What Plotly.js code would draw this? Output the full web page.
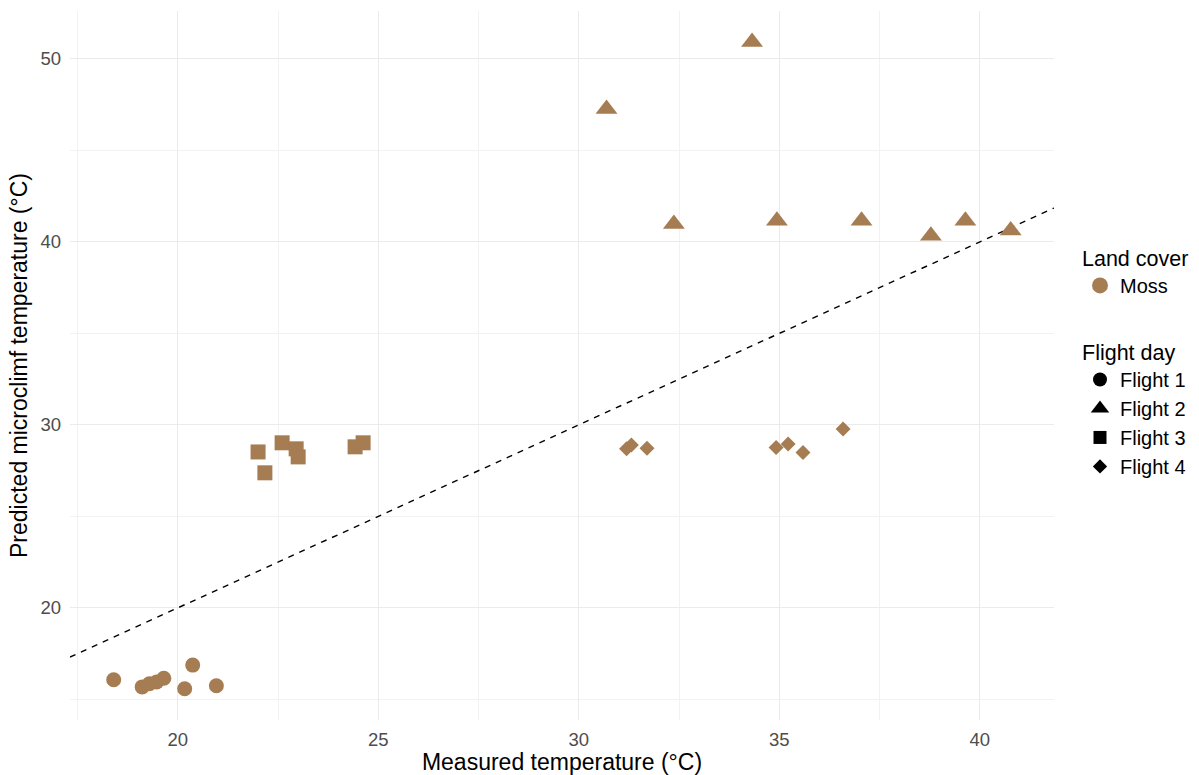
<!DOCTYPE html>
<html>
<head>
<meta charset="utf-8">
<script src="https://cdn.plot.ly/plotly-3.0.1.min.js"></script>
<style>html,body{margin:0;padding:0;background:#fff;}#chart{width:1199px;height:775px;}</style>
</head>
<body>
<div id="chart"></div>
<script>
// Flight 1 (circles)
const f1x = [18.40, 19.11, 19.29, 19.47, 19.65, 20.17, 20.37, 20.96];
const f1y = [16.07, 15.68, 15.85, 15.95, 16.15, 15.58, 16.87, 15.74];
// Flight 2 (triangles)
const f2x = [30.69, 34.32, 32.37, 34.94, 37.05, 38.78, 39.64, 40.77];
const f2y = [47.27, 50.93, 40.98, 41.15, 41.15, 40.33, 41.16, 40.63];
// Flight 3 (squares)
const f3x = [22.00, 22.17, 22.60, 22.95, 23.00, 24.42, 24.62];
const f3y = [28.52, 27.38, 29.02, 28.69, 28.25, 28.80, 29.02];
// Flight 4 (diamonds)
const f4x = [31.19, 31.31, 31.70, 34.92, 35.22, 35.59, 36.59];
const f4y = [28.69, 28.90, 28.72, 28.76, 28.95, 28.49, 29.77];

const flights = ['Flight 1', 'Flight 2', 'Flight 3', 'Flight 4'];
const symbols = ['circle', 'triangle-up', 'square', 'diamond'];
const sizes = [15, 19, 15, 11.5];
const xs = [f1x, f2x, f3x, f4x];
const ys = [f1y, f2y, f3y, f4y];
const landCover = ['Moss'];
const mossColor = '#A67C52';

const xRange = [17.31, 41.85];
const yRange = [13.87, 52.62];

const traces = [];
// 1:1 reference line
traces.push({
  x: xRange, y: xRange, mode: 'lines', type: 'scatter',
  line: {color: '#000', width: 1.4, dash: '6px,6px'},
  hoverinfo: 'skip', showlegend: false
});
for (let i = 0; i < 4; i++) {
  traces.push({
    x: xs[i], y: ys[i], mode: 'markers', type: 'scatter',
    name: flights[i],
    marker: {symbol: symbols[i], size: sizes[i], color: mossColor, line: {width: 0}},
    showlegend: false
  });
}
// Legend: land cover
traces.push({
  x: [null], y: [null], mode: 'markers', type: 'scatter', name: landCover[0],
  marker: {symbol: 'circle', size: 16, color: mossColor}, legend: 'legend', showlegend: true
});
// Legend: flight day
for (let i = 0; i < 4; i++) {
  traces.push({
    x: [null], y: [null], mode: 'markers', type: 'scatter', name: flights[i],
    marker: {symbol: symbols[i], size: [14, 16, 13, 11][i], color: '#000'}, legend: 'legend2', showlegend: true
  });
}

const fontFam = 'Liberation Sans, Arial, Helvetica, sans-serif';
const layout = {
  width: 1199, height: 775,
  margin: {l: 70, r: 145, t: 11, b: 55},
  paper_bgcolor: '#fff', plot_bgcolor: '#fff',
  font: {family: fontFam, color: '#000'},
  xaxis: {
    range: xRange, tickvals: [20, 25, 30, 35, 40], ticks: '', showline: false, zeroline: false,
    gridcolor: '#EBEBEB', gridwidth: 1.2,
    minor: {tickvals: [17.5, 22.5, 27.5, 32.5, 37.5], showgrid: true, gridcolor: '#F2F2F2', gridwidth: 0.8},
    tickfont: {size: 18.5, color: '#4D4D4D'}, ticklabelstandoff: 6,
    title: {text: 'Measured temperature (°C)', font: {size: 23, color: '#000'}, standoff: 4}
  },
  yaxis: {
    range: yRange, tickvals: [20, 30, 40, 50], ticks: '', showline: false, zeroline: false,
    gridcolor: '#EBEBEB', gridwidth: 1.2,
    minor: {tickvals: [15, 25, 35, 45], showgrid: true, gridcolor: '#F2F2F2', gridwidth: 0.8},
    tickfont: {size: 18.5, color: '#4D4D4D'}, ticklabelstandoff: 8,
    title: {text: 'Predicted microclimf temperature (°C)', font: {size: 23, color: '#000'}, standoff: 6}
  },
  legend: {
    xref: 'container', yref: 'container', x: 1080 / 1199, y: 1 - 238 / 775, xanchor: 'left', yanchor: 'top',
    title: {text: 'Land cover', font: {size: 21.5}}, font: {size: 20}, bgcolor: 'rgba(0,0,0,0)'
  },
  legend2: {
    xref: 'container', yref: 'container', x: 1080 / 1199, y: 1 - 332 / 775, xanchor: 'left', yanchor: 'top',
    title: {text: 'Flight day', font: {size: 21.5}}, font: {size: 20}, bgcolor: 'rgba(0,0,0,0)',
    tracegroupgap: 0
  },
  showlegend: true
};
Plotly.newPlot('chart', traces, layout, {displayModeBar: false});
</script>
</body>
</html>
